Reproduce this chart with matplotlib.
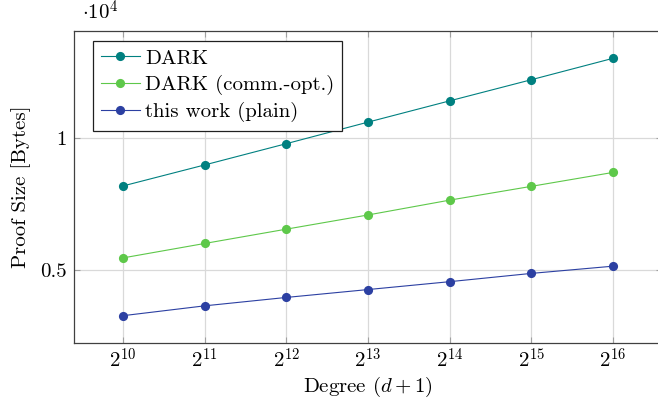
import matplotlib
matplotlib.use("Agg")
import matplotlib.pyplot as plt
from matplotlib.ticker import FixedLocator, FixedFormatter

plt.rcParams["font.family"] = ["cmr10", "DejaVu Serif"]
plt.rcParams["mathtext.fontset"] = "cm"
plt.rcParams["axes.unicode_minus"] = False

# log2 of the polynomial degree (d+1)
log_degree = [10, 11, 12, 13, 14, 15, 16]

# proof sizes in bytes
dark = [8190, 8990, 9800, 10620, 11430, 12235, 13050]
dark_comm_opt = [5450, 6000, 6545, 7085, 7650, 8175, 8705]
this_work_plain = [3250, 3625, 3945, 4245, 4545, 4860, 5135]

series_labels = ["DARK", "DARK (comm.-opt.)", "this work (plain)"]
series_colors = ["#008080", "#5ec84a", "#2c40a2"]

FS = 15

fig = plt.figure(figsize=(6.58, 4.07), dpi=100)
ax = fig.add_axes([74 / 658, 64 / 407, 588 / 658, 312 / 407])

for vals, lab, col in zip([dark, dark_comm_opt, this_work_plain], series_labels, series_colors):
    ax.plot(log_degree, vals, color=col, lw=0.8, marker="o", ms=6.6,
            markeredgewidth=0, label=lab, zorder=3)

ax.set_xlim(9.4, 16.6)
ax.set_ylim(2210, 14090)

ax.xaxis.set_major_locator(FixedLocator(log_degree))
ax.xaxis.set_major_formatter(FixedFormatter([rf"$2^{{{k}}}$" for k in log_degree]))
ax.yaxis.set_major_locator(FixedLocator([5000, 10000]))
ax.yaxis.set_major_formatter(FixedFormatter(["0.5", "1"]))

ax.grid(True, color="#d9d9d9", lw=0.9, zorder=0)
ax.set_axisbelow(True)
for s in ax.spines.values():
    s.set_color("#404040")
    s.set_linewidth(0.9)
ax.tick_params(direction="in", length=4, width=0.8, color="#a0a0a0",
               top=True, right=True, labelsize=FS)
ax.tick_params(axis="x", pad=3.5)
ax.tick_params(axis="y", pad=5)

ax.set_xlabel(r"Degree $(d + 1)$", fontsize=FS, labelpad=2)
ax.set_ylabel("Proof Size [Bytes]", fontsize=FS, labelpad=7)
ax.text(0.0136, 1.035, r"$\cdot 10^{4}$", transform=ax.transAxes,
        fontsize=FS, ha="left", va="baseline")

leg = ax.legend(loc="upper left", bbox_to_anchor=((92.7 - 74) / 588, (343 - 40.7) / 312),
                borderaxespad=0, fontsize=FS, frameon=True, fancybox=False,
                handlelength=1.85, handletextpad=0.25, labelspacing=0.35,
                borderpad=0.4)
leg.get_frame().set_edgecolor("#202020")
leg.get_frame().set_linewidth(0.9)
leg.get_frame().set_alpha(1)

fig.savefig("out.png", dpi=100)
